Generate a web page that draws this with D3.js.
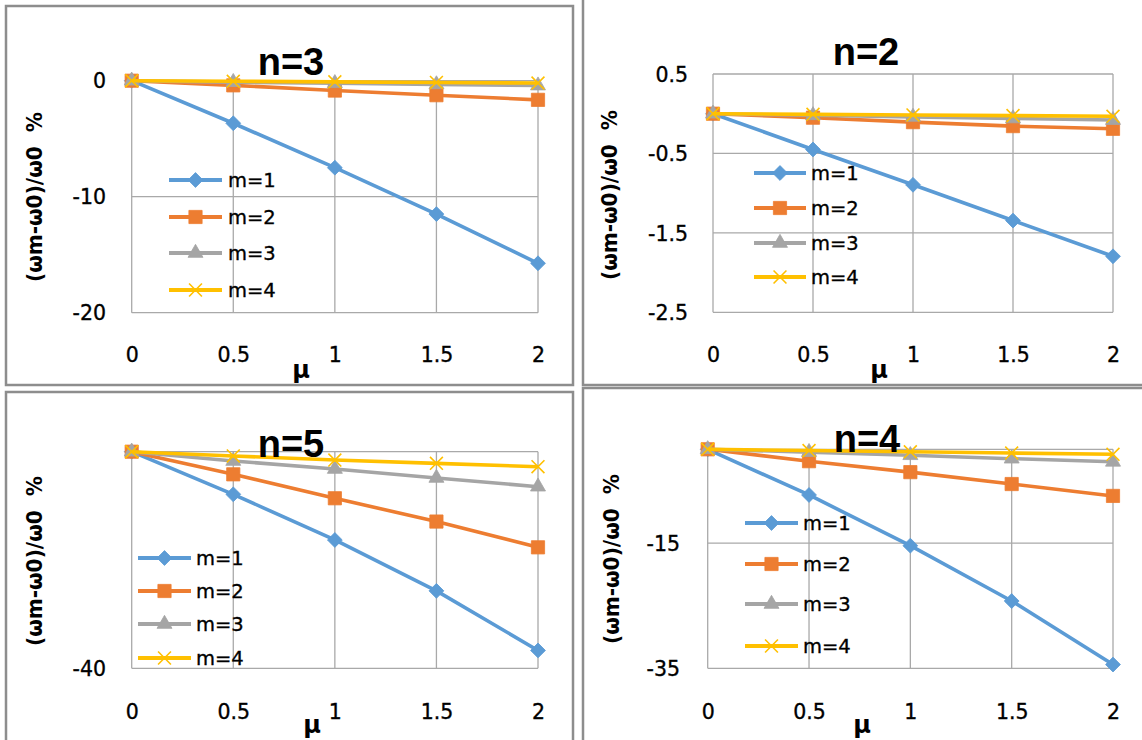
<!DOCTYPE html>
<html>
<head>
<meta charset="utf-8">
<script src="https://cdn.jsdelivr.net/npm/d3@7"></script>
<style>
  html, body { margin: 0; padding: 0; background: #fff; }
  svg { display: block; }
  .tick text { font-family: "DejaVu Sans", sans-serif; font-size: 20.5px; fill: #000; stroke: #000; stroke-width: 0.35px; }
</style>
</head>
<body>
<svg id="chart" width="1142" height="740"></svg>
<script>
// ---- data ----
const mu = [0, 0.5, 1, 1.5, 2];
const seriesNames = ["m=1", "m=2", "m=3", "m=4"];

const n3_m1 = [0, -3.67, -7.5, -11.5, -15.74];
const n3_m2 = [0, -0.4, -0.85, -1.25, -1.65];
const n3_m3 = [0, -0.12, -0.22, -0.32, -0.42];
const n3_m4 = [0, -0.05, -0.1, -0.15, -0.2];

const n2_m1 = [0, -0.45, -0.895, -1.345, -1.795];
const n2_m2 = [0, -0.05, -0.106, -0.156, -0.19];
const n2_m3 = [0, -0.02, -0.04, -0.06, -0.08];
const n2_m4 = [0, -0.008, -0.016, -0.024, -0.032];

const n5_m1 = [0, -7.87, -16.3, -25.7, -36.7];
const n5_m2 = [0, -4.18, -8.6, -12.9, -17.66];
const n5_m3 = [0, -1.72, -3.2, -4.85, -6.46];
const n5_m4 = [0, -0.78, -1.54, -2.15, -2.77];

const n4_m1 = [0, -7.3, -15.4, -24.25, -34.4];
const n4_m2 = [0, -1.9, -3.65, -5.55, -7.45];
const n4_m3 = [0, -0.45, -0.95, -1.5, -2.0];
const n4_m4 = [0, -0.2, -0.4, -0.6, -0.8];

const yTicks_n3 = [0, -10, -20];
const yTicks_n2 = [0.5, -0.5, -1.5, -2.5];
const yTicks_n5 = [-40];
const yTicks_n4 = [-15, -35];

const titles = ["n=3", "n=2", "n=5", "n=4"];
const xTitle = "\u03bc";
const yTitle = "(\u03c9m-\u03c90)/\u03c90  %";

// ---- styles ----
const colors = ["#5B9BD5", "#ED7D31", "#A5A5A5", "#FFC000"];
const markers = ["diamond", "square", "triangle", "x"];

// ---- layout per panel ----
const panels = [
  { title: titles[0], series: [n3_m1, n3_m2, n3_m3, n3_m4], ticks: yTicks_n3, domain: [-20, 0], grid: [0, -10, -20],
    box: [6, 6, 573, 385], px: [131.7, 538], py: [312.7, 80.7], labelRight: 106, xLabelY: 355,
    titleX: 291, titleY: 75, muX: 301, muY: 370, yTitleX: 35, yTitleY: 197,
    legX: [169, 222], legText: 228, legY: [180, 217, 253, 290] },
  { title: titles[1], series: [n2_m1, n2_m2, n2_m3, n2_m4], ticks: yTicks_n2, domain: [-2.5, 0.5], grid: [0.5, -0.5, -1.5, -2.5],
    box: [583, -5, 1150, 385], px: [713, 1113], py: [312.3, 74], labelRight: 688, xLabelY: 355,
    titleX: 866, titleY: 65, muX: 879, muY: 370, yTitleX: 610, yTitleY: 195,
    legX: [754, 806], legText: 811, legY: [173, 208, 243, 277] },
  { title: titles[2], series: [n5_m1, n5_m2, n5_m3, n5_m4], ticks: yTicks_n5, domain: [-40, 0], grid: [0, -40],
    box: [6, 392, 573, 752], px: [131.7, 538], py: [668.3, 451.7], labelRight: 106, xLabelY: 712,
    titleX: 291, titleY: 457, muX: 312, muY: 725, yTitleX: 35, yTitleY: 561,
    legX: [138, 191], legText: 196, legY: [558, 591, 624, 658] },
  { title: titles[3], series: [n4_m1, n4_m2, n4_m3, n4_m4], ticks: yTicks_n4, domain: [-35, 0], grid: [0, -15, -35],
    box: [583, 388, 1150, 752], px: [707.7, 1113], py: [668.3, 449.3], labelRight: 680, xLabelY: 712,
    titleX: 867, titleY: 452, muX: 862, muY: 725, yTitleX: 612, yTitleY: 559,
    legX: [745, 798], legText: 803, legY: [523, 564, 604, 646] }
];

const svg = d3.select("#chart");

function markerPath(kind) {
  if (kind === "diamond") return d3.symbol(d3.symbolSquare, 110)();
  if (kind === "square") return d3.symbol(d3.symbolSquare, 175)();
  if (kind === "triangle") {
    const s = 15, h = s * Math.sqrt(3) / 2;
    return `M0,${-h * 2 / 3}L${s / 2},${h / 3}L${-s / 2},${h / 3}Z`;
  }
  return d3.symbol(d3.symbolX, 110)();
}

function drawMarker(g, kind, color, cx, cy) {
  const p = g.append("path").attr("d", markerPath(kind));
  if (kind === "x") {
    p.attr("fill", "none").attr("stroke", color).attr("stroke-width", 1.6)
     .attr("transform", `translate(${cx},${cy})`);
  } else {
    p.attr("fill", color).attr("stroke", color).attr("stroke-width", 0.8)
     .attr("transform", `translate(${cx},${cy})` + (kind === "diamond" ? " rotate(45)" : ""));
  }
}

panels.forEach((P) => {
  const g = svg.append("g");
  const x = d3.scaleLinear().domain([0, 2]).range(P.px);
  const y = d3.scaleLinear().domain(P.domain).range(P.py);

  // panel border
  g.append("rect")
    .attr("x", P.box[0]).attr("y", P.box[1])
    .attr("width", P.box[2] - P.box[0]).attr("height", P.box[3] - P.box[1])
    .attr("fill", "#fff").attr("stroke", "#8d8d8d").attr("stroke-width", 2.5);

  // gridlines
  g.append("g").selectAll("line").data(mu).join("line")
    .attr("x1", d => x(d)).attr("x2", d => x(d))
    .attr("y1", y(P.domain[1])).attr("y2", y(P.domain[0]))
    .attr("stroke", "#a9a9a9").attr("stroke-width", 1.3);
  g.append("g").selectAll("line").data(P.grid).join("line")
    .attr("x1", x(0)).attr("x2", x(2))
    .attr("y1", d => y(d)).attr("y2", d => y(d))
    .attr("stroke", "#a9a9a9").attr("stroke-width", 1.3);

  // y axis labels
  const yAxis = d3.axisLeft(y).tickValues(P.ticks).tickSize(0).tickPadding(0)
    .tickFormat(d => String(d));
  const ya = g.append("g").attr("transform", `translate(${P.labelRight},0)`).call(yAxis);
  ya.select(".domain").remove();
  ya.selectAll("text").attr("x", 0).attr("dy", "0.35em");

  // x axis labels
  const xAxis = d3.axisBottom(x).tickValues(mu).tickSize(0).tickPadding(0)
    .tickFormat(d => String(d));
  const xa = g.append("g").attr("transform", `translate(0,${P.xLabelY})`).call(xAxis);
  xa.select(".domain").remove();
  xa.selectAll("text").attr("y", 0).attr("dy", "0.35em");

  // series
  const line = d3.line().x((d, i) => x(mu[i])).y(d => y(d));
  P.series.forEach((vals, si) => {
    const sg = g.append("g");
    sg.append("path").datum(vals).attr("d", line)
      .attr("fill", "none").attr("stroke", colors[si]).attr("stroke-width", 3.6)
      .attr("stroke-linejoin", "round");
    vals.forEach((v, i) => drawMarker(sg, markers[si], colors[si], x(mu[i]), y(v)));
  });

  // legend
  seriesNames.forEach((name, si) => {
    const lg = g.append("g");
    const ly = P.legY[si];
    lg.append("line").attr("x1", P.legX[0]).attr("x2", P.legX[1])
      .attr("y1", ly).attr("y2", ly)
      .attr("stroke", colors[si]).attr("stroke-width", 4);
    drawMarker(lg, markers[si], colors[si], (P.legX[0] + P.legX[1]) / 2, ly);
    lg.append("text").attr("x", P.legText).attr("y", ly).attr("dy", "0.36em")
      .attr("font-family", "DejaVu Sans, sans-serif").attr("font-size", 19.5)
      .attr("fill", "#000").attr("stroke", "#000").attr("stroke-width", 0.35).text(name);
  });

  // axis titles
  g.append("text").attr("x", P.muX).attr("y", P.muY).attr("dy", "0.35em")
    .attr("text-anchor", "middle").attr("font-family", "DejaVu Sans, sans-serif")
    .attr("font-weight", "bold").attr("font-size", 24).text(xTitle);
  g.append("text")
    .attr("transform", `translate(${P.yTitleX},${P.yTitleY}) rotate(-90)`)
    .attr("dy", "0.35em").attr("text-anchor", "middle")
    .attr("font-family", "DejaVu Sans, sans-serif").attr("font-weight", "bold")
    .attr("font-size", 21).attr("textLength", 170).attr("lengthAdjust", "spacingAndGlyphs")
    .style("white-space", "pre").text(yTitle);

  // chart title
  g.append("text").attr("x", P.titleX).attr("y", P.titleY)
    .attr("text-anchor", "middle").attr("font-family", "Liberation Sans, Arial, sans-serif")
    .attr("font-weight", "bold").attr("font-size", 38).attr("fill", "#000").text(P.title);
});
</script>
</body>
</html>
